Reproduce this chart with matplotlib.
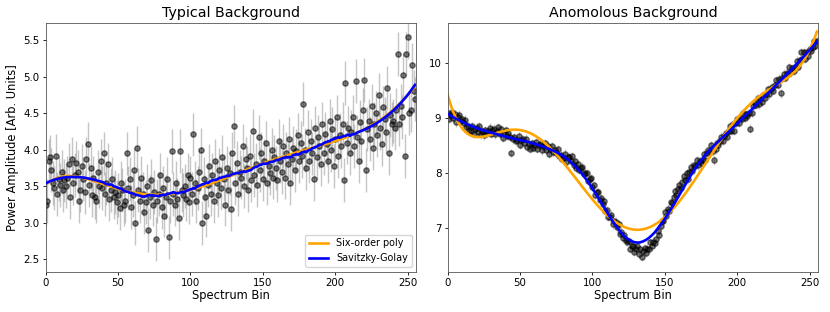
import numpy as np
import matplotlib
matplotlib.use("Agg")
import matplotlib.pyplot as plt

# spectrum bins (same for both panels)
bins = np.arange(256)

# typical background, power per bin
typical = [
    3.25, 3.30, 3.85, 3.90, 3.72, 3.55, 3.48, 3.92, 3.40, 3.60, 3.52, 3.70, 3.45, 3.58, 3.50, 3.62,
    3.80, 3.35, 3.88, 3.55, 3.65, 3.82, 3.70, 3.30, 3.45, 3.78, 3.60, 3.42, 3.88, 4.08, 3.52, 3.75,
    3.38, 3.62, 3.35, 3.30, 3.70, 3.50, 3.85, 3.48, 3.95, 3.40, 3.55, 3.80, 3.32, 3.45, 3.60, 3.35,
    3.42, 3.28, 3.38, 3.20, 3.55, 3.45, 3.25, 3.30, 3.95, 3.48, 3.60, 3.22, 3.38, 3.72, 3.00, 4.02,
    3.45, 3.30, 3.62, 3.40, 3.15, 3.28, 3.50, 2.90, 3.35, 3.58, 3.25, 3.42, 2.78, 3.30, 3.40, 3.65,
    3.22, 3.48, 3.10, 3.35, 3.60, 2.80, 3.30, 3.98, 3.40, 3.25, 3.55, 3.32, 3.07, 3.98, 3.45, 3.38,
    3.50, 3.32, 3.65, 3.28, 3.62, 3.40, 4.21, 3.55, 3.30, 3.48, 3.70, 4.00, 3.00, 3.60, 3.35, 3.10,
    3.52, 3.78, 3.40, 3.65, 3.30, 3.85, 3.55, 3.38, 3.72, 3.48, 3.90, 3.60, 3.25, 3.75, 3.45, 3.68,
    3.19, 3.95, 4.32, 3.55, 3.82, 3.40, 3.70, 3.62, 4.05, 3.50, 3.88, 3.75, 3.45, 3.92, 3.58, 4.26,
    3.65, 3.80, 3.52, 4.18, 3.72, 3.95, 3.60, 3.85, 4.10, 3.55, 3.78, 3.68, 4.00, 3.62, 3.90, 3.75,
    3.58, 4.12, 3.85, 3.70, 4.05, 3.62, 3.95, 3.80, 4.15, 3.55, 3.88, 4.02, 3.72, 3.98, 4.20, 3.85,
    4.10, 3.92, 4.63, 4.00, 3.75, 4.25, 3.85, 4.12, 3.95, 3.60, 4.30, 3.90, 4.18, 4.05, 3.80, 4.35,
    3.95, 4.22, 4.08, 3.85, 4.40, 4.00, 4.28, 3.78, 4.15, 4.45, 3.92, 4.20, 4.05, 4.35, 3.59, 4.91,
    4.10, 4.30, 3.95, 4.25, 4.45, 4.05, 4.94, 4.18, 3.85, 4.38, 4.12, 4.55, 4.96, 3.72, 4.28, 4.40,
    4.15, 4.60, 4.02, 4.35, 4.50, 4.20, 4.75, 4.30, 4.08, 4.58, 4.42, 4.25, 4.85, 3.96, 4.48, 4.35,
    4.40, 4.30, 4.55, 5.31, 4.35, 4.60, 4.45, 5.02, 3.92, 5.31, 5.55, 4.50, 4.55, 5.16, 4.80, 4.70,
]

# anomalous background, power per bin
anomalous = [
    9.08, 8.98, 9.05, 9.10, 8.99, 9.07, 8.92, 9.02, 9.06, 8.94, 8.98, 8.91, 8.97, 8.83, 8.85, 8.76,
    8.77, 8.85, 8.71, 8.80, 8.82, 8.75, 8.85, 8.70, 8.77, 8.68, 8.78, 8.72, 8.76, 8.82, 8.71, 8.78,
    8.80, 8.70, 8.77, 8.83, 8.71, 8.79, 8.64, 8.74, 8.78, 8.67, 8.73, 8.66, 8.36, 8.61, 8.65, 8.57,
    8.59, 8.67, 8.51, 8.60, 8.61, 8.54, 8.62, 8.47, 8.53, 8.44, 8.54, 8.46, 8.50, 8.56, 8.44, 8.50,
    8.52, 8.41, 8.49, 8.54, 8.42, 8.49, 8.35, 8.44, 8.48, 8.37, 8.42, 8.36, 8.43, 8.30, 8.33, 8.25,
    8.27, 8.35, 8.19, 8.28, 8.29, 8.22, 8.30, 8.15, 8.21, 8.09, 8.16, 8.06, 8.08, 8.11, 7.97, 8.00,
    7.99, 7.85, 7.88, 7.90, 7.75, 7.78, 7.60, 7.65, 7.66, 7.51, 7.54, 7.44, 7.48, 7.31, 7.32, 7.20,
    7.19, 7.24, 7.06, 7.12, 7.11, 7.01, 7.07, 6.89, 6.93, 6.81, 6.87, 6.77, 6.74, 6.76, 6.62, 6.66,
    6.66, 6.56, 6.61, 6.66, 6.53, 6.61, 6.47, 6.58, 6.63, 6.55, 6.62, 6.61, 6.74, 6.66, 6.75, 6.72,
    6.80, 6.94, 6.87, 7.03, 7.12, 7.13, 7.29, 7.21, 7.35, 7.31, 7.47, 7.46, 7.56, 7.67, 7.60, 7.71,
    7.77, 7.72, 7.84, 7.94, 7.87, 7.99, 7.88, 8.02, 8.11, 8.04, 8.14, 8.12, 8.23, 8.14, 8.22, 8.17,
    8.24, 8.35, 8.23, 8.36, 8.41, 8.38, 8.50, 8.39, 8.23, 8.43, 8.55, 8.51, 8.57, 8.66, 8.58, 8.67,
    8.72, 8.65, 8.76, 8.85, 8.77, 8.88, 8.77, 8.90, 8.98, 8.91, 9.00, 8.98, 9.09, 9.00, 9.07, 9.03,
    9.09, 8.80, 9.09, 9.22, 9.27, 9.24, 9.36, 9.25, 9.35, 9.29, 9.41, 9.37, 9.43, 9.52, 9.43, 9.52,
    9.56, 9.49, 9.59, 9.68, 9.60, 9.71, 9.45, 9.72, 9.80, 9.73, 9.82, 9.80, 9.92, 9.83, 9.90, 9.86,
    9.93, 10.04, 9.93, 10.05, 10.20, 10.07, 10.20, 10.08, 10.19, 10.13, 10.26, 10.22, 10.29, 10.39, 10.31, 10.40,
]

typical_err = 0.3
anomalous_err = 0.08


def savgol(y, window, order):
    # plain numpy Savitzky-Golay, polynomial fit on the edge windows
    y = np.asarray(y, dtype=float)
    half = window // 2
    t = np.arange(-half, half + 1)
    A = np.vander(t, order + 1, increasing=True)
    coeffs = np.linalg.pinv(A)[0]
    out = np.convolve(y, coeffs[::-1], mode='same')
    tt = np.arange(window)
    p = np.polyfit(tt, y[:window], order)
    out[:half] = np.polyval(p, tt[:half])
    p = np.polyfit(tt, y[-window:], order)
    out[-half:] = np.polyval(p, tt[-half:])
    return out


fig, axes = plt.subplots(1, 2, figsize=(8.3, 3.12), dpi=100)
fig.subplots_adjust(left=0.055, right=0.986, top=0.927, bottom=0.129, wspace=0.084)

panels = [
    (axes[0], typical, typical_err, "Typical Background", (2.33, 5.74)),
    (axes[1], anomalous, anomalous_err, "Anomolous Background", (6.2, 10.73)),
]

for ax, vals, err, title, ylim in panels:
    vals = np.array(vals)
    ax.errorbar(bins, vals, yerr=err, fmt='o', color='black', ecolor='#8c8c8c',
                alpha=0.5, ms=3.8, elinewidth=1.0, zorder=1)
    poly = np.polynomial.Polynomial.fit(bins, vals, 6)
    ax.plot(bins, poly(bins), color='orange', lw=1.9, label='Six-order poly', zorder=2)
    ax.plot(bins, savgol(vals, 81, 3), color='blue', lw=1.9, label='Savitzky-Golay', zorder=3)
    ax.set_title(title, fontsize=10.3, pad=4)
    ax.set_xlabel("Spectrum Bin", fontsize=8.3, labelpad=1)
    ax.set_xlim(0, 256)
    ax.set_ylim(*ylim)
    ax.tick_params(labelsize=7.4, length=2.5, width=0.6, pad=2)
    for s in ax.spines.values():
        s.set_linewidth(0.6)
        s.set_color('#555555')

axes[0].set_ylabel("Power Amplitude [Arb. Units]", fontsize=8.3, labelpad=3)
axes[0].legend(loc='lower right', fontsize=6.9, handlelength=2.0)

fig.savefig("out.png", dpi=100)
